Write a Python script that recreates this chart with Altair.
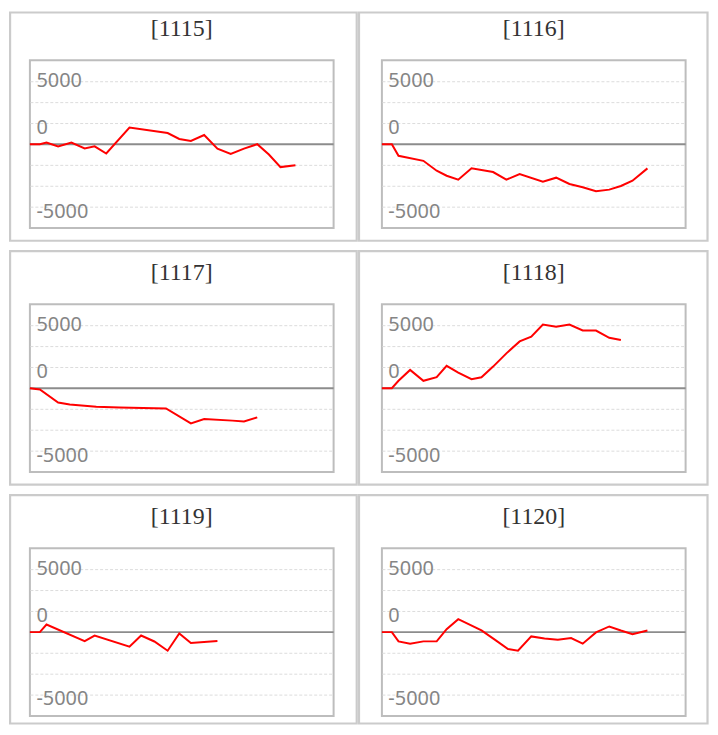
import altair as alt
import pandas as pd

IDS = ["[1115]", "[1116]", "[1117]", "[1118]", "[1119]", "[1120]"]

DAY_1115 = [0, 6, 10, 17, 25, 33, 39, 46, 60, 83, 90, 97, 105, 113, 121, 129, 137, 144, 151, 160]
VAL_1115 = [0, 0, 130, -170, 130, -330, -170, -740, 1330, 890, 420, 260, 730, -350, -770, -350, 0, -820, -1820, -1670]

DAY_1116 = [0, 6, 10, 25, 33, 39, 46, 54, 67, 75, 83, 97, 105, 113, 121, 129, 137, 144, 151, 160]
VAL_1116 = [0, 0, -925, -1320, -2110, -2505, -2820, -1920, -2210, -2820, -2370, -2980, -2660, -3160, -3420, -3740, -3610, -3320, -2900, -1920]

DAY_1117 = [0, 6, 17, 24, 40, 54, 82, 97, 105, 122, 129, 137]
VAL_1117 = [0, -110, -1140, -1295, -1480, -1530, -1610, -2800, -2450, -2580, -2640, -2320]

DAY_1118 = [0, 6, 10, 17, 25, 33, 39, 46, 54, 60, 67, 75, 83, 90, 97, 105, 113, 121, 129, 137, 144]
VAL_1118 = [0, 0, 585, 1450, 585, 870, 1770, 1240, 710, 870, 1715, 2765, 3713, 4085, 5056, 4874, 5056, 4582, 4582, 4005, 3824]

DAY_1119 = [0, 6, 10, 33, 39, 60, 67, 75, 83, 90, 97, 113]
VAL_1119 = [0, 0, 600, -711, -269, -1161, -269, -743, -1477, -111, -869, -711]

DAY_1120 = [0, 6, 10, 17, 25, 33, 39, 46, 60, 68, 76, 82, 90, 98, 106, 114, 121, 129, 137, 144, 151, 160]
VAL_1120 = [0, 0, -735, -917, -735, -735, 237, 1027, 134, -600, -1343, -1470, -340, -498, -600, -474, -917, -24, 450, 134, -158, 134]

SERIES = [
    (DAY_1115, VAL_1115),
    (DAY_1116, VAL_1116),
    (DAY_1117, VAL_1117),
    (DAY_1118, VAL_1118),
    (DAY_1119, VAL_1119),
    (DAY_1120, VAL_1120),
]

W, H = 305, 168.5
YMAX = 20000 / 3
GRID = [k * 5000 / 3 for k in (-3, -2, -1, 1, 2, 3)]
LABEL_EXPR = ("datum.value > 4000 ? '5000' : datum.value < -4000 ? '-5000' : "
              "(datum.value > 1000 && datum.value < 2000) ? '0' : ''")


def panel(idx, pid, days, vals):
    row, col = divmod(idx, 2)
    left = 19.9 if col == 0 else 23.0
    right = 23.2 if col == 0 else 22.0
    top = 48.0 if row == 0 else 53.4
    bottom = 7.5 if row == 2 else 12.7

    df = pd.DataFrame({"day": days, "value": vals})
    head = pd.DataFrame({"id": [pid]})
    xenc = alt.X("day:Q", scale=alt.Scale(domain=[0, 183], nice=False, zero=False), axis=None)
    yaxis = alt.Axis(
        values=GRID, tickCount=20, grid=True, gridColor="#dcdcdc", gridDash=[3, 2], gridWidth=1,
        domain=False, ticks=False, tickSize=0, labelExpr=LABEL_EXPR,
        labelAlign="left", labelBaseline="middle", labelPadding=-6,
        labelFont="Noto Sans", labelFontSize=20, labelColor="#858585",
        labelOffset={"condition": {"test": "datum.value > 4000", "value": -1}, "value": 4},
        labelOverlap=False, labelFlush=False, title=None,
    )
    yenc = alt.Y("value:Q", scale=alt.Scale(domain=[-YMAX, YMAX], nice=False, zero=False), axis=yaxis)

    frame = alt.Chart(head).mark_rect(fillOpacity=0, stroke="#cbcbcb", strokeWidth=2.2).encode(
        x=alt.value(-left), x2=alt.value(W + right), y=alt.value(-top), y2=alt.value(H + bottom)
    )
    title = alt.Chart(head).mark_text(
        font="Liberation Serif", fontSize=24, color="#333333", align="center", baseline="middle"
    ).encode(x=alt.value(W / 2), y=alt.value(-31), text="id:N")
    line = alt.Chart(df).mark_line(color="#ff0000", strokeWidth=2).encode(x=xenc, y=yenc)
    zero = alt.Chart(head).mark_rule(color="#8c8c8c", strokeWidth=2).encode(
        y=alt.Y(datum=0, type="quantitative")
    )
    return alt.layer(frame, title, zero, line).properties(width=W, height=H)


panels = [panel(i, pid, d, v) for i, (pid, (d, v)) in enumerate(zip(IDS, SERIES))]

chart = alt.concat(*panels, columns=2, spacing={"row": 76, "column": 48.5}, bounds="flush").properties(
    padding=0, background="white"
).configure_view(stroke="#bdbdbd", strokeWidth=2)

chart.save("out.html", embed_options={"renderer": "svg", "actions": False})
